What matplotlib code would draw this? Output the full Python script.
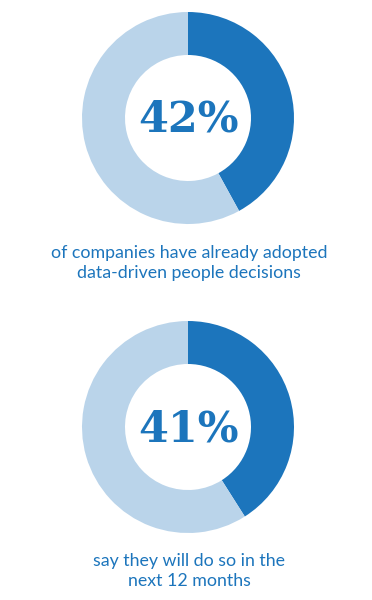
import matplotlib.pyplot as plt

# values
shares = [42, 41]
labels = ["42%", "41%"]
captions = ["of companies have already adopted\ndata-driven people decisions",
            "say they will do so in the\nnext 12 months"]

dark = "#1c75bc"
light = "#bad4ea"

fig = plt.figure(figsize=(3.72, 6.0), dpi=100)
ax = fig.add_axes([0, 0, 1, 1])

centers = [(188, 600 - 118), (188, 600 - 427)]
caption_y = [600 - 263, 600 - 571]

for share, lab, cap, c, cy in zip(shares, labels, captions, centers, caption_y):
    ax.pie([share, 100 - share], colors=[dark, light], startangle=90,
           counterclock=False, center=c, radius=106,
           wedgeprops=dict(width=43, linewidth=0), frame=True)
    ax.text(c[0], c[1] - 2, lab, ha="center", va="center", color=dark,
            fontsize=31, fontweight="bold", family="DejaVu Serif")
    ax.text(189, cy, cap, ha="center", va="center", color=dark,
            fontsize=12.8, family="Lato", linespacing=1.35)

ax.set_xlim(0, 372)
ax.set_ylim(0, 600)
ax.set_aspect("equal")
ax.axis("off")

plt.savefig("out.png", dpi=100)
